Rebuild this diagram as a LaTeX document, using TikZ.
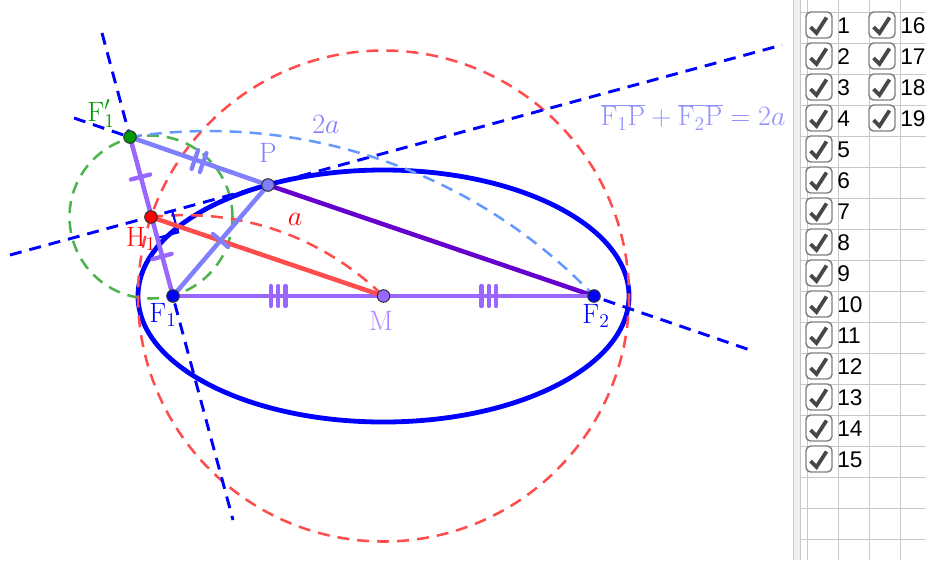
\RequirePackage{fix-cm}
\documentclass[tikz,border=0pt]{standalone}
\usepackage{fontspec}
\usetikzlibrary{calc}
\newfontfamily\liberation{Liberation Sans}
\definecolor{cblue}{HTML}{0000FF}
\definecolor{cpurple}{HTML}{9966FF}
\definecolor{cperi}{HTML}{8080FF}
\definecolor{cdark}{HTML}{6600CC}
\definecolor{cred}{HTML}{FF4D4D}
\definecolor{cgreen}{HTML}{4DB34D}
\definecolor{cgreenpt}{HTML}{009900}
\definecolor{carc}{HTML}{6699FF}
\definecolor{cgrid}{HTML}{C8C8C8}
\newcommand{\tickmark}[5]{% a,b,pos,half-length,style
  \draw[#5] ($(#1)!#3!(#2)!#4!90:(#2)$) -- ($(#1)!#3!(#2)!#4!-90:(#2)$);}
\tikzset{
  dash line/.style={dash pattern=on 9pt off 6pt},
  helper/.style={cblue,line width=2.2pt,dash line},
  seg/.style={line width=3.4pt,line cap=round},
  tk/.style={line width=3.2pt,line cap=round},
  dot/.style={circle,draw=black!80,line width=.8pt,minimum size=9.4pt,inner sep=0pt},
  lab/.style={inner sep=0pt,font=\fontsize{21}{24}\selectfont},
  grid line/.style={cgrid,line width=.75pt},
  box/.style={draw=black!50,line width=1.1pt,fill=white,rounded corners=3.5pt,minimum size=19.5pt,inner sep=0pt},
  cb label/.style={anchor=west,inner sep=0pt,font=\liberation\fontsize{17}{19}\selectfont},
}
\begin{document}
\begin{tikzpicture}[x=0.75pt,y=-0.75pt]
\useasboundingbox (0,0) rectangle (928,562);
\coordinate (F1) at (173,296);
\coordinate (F2) at (594,296);
\coordinate (M) at (383.5,296);
\coordinate (P) at (268,185);
\coordinate (Fp) at (130,137);
\coordinate (H) at (151,217);
\coordinate (t1) at (10,255);
\coordinate (t2) at (782,45);
\coordinate (n1) at (102,33);
\coordinate (n2) at (233,520);
\coordinate (r1) at (74,118);
\coordinate (r2) at (750,350);
% panel
\fill[black!6] (793,0) rectangle (800,560);
\foreach \x in {793,800,807,838,869,900} \draw[grid line] (\x,0) -- (\x,560);
\foreach \k in {0,...,17} \draw[grid line] (800,12+31*\k) -- (926,12+31*\k);
% construction
\draw[cblue,line width=3.6pt] (M) ellipse [x radius=245.5,y radius=126];
\draw[cgreen,line width=1.9pt,dash line] (H) circle [radius=81.5];
\draw[cred,line width=1.9pt,dash line] (M) circle [radius=245.5];
\draw[helper] (t1) -- (t2);
\draw[helper] (n1) -- (n2);
\draw[helper] (r1) -- (r2);
\draw[carc,line width=1.9pt,dash line] (Fp) to[bend left=27.6,looseness=.9] (F2);
\draw[cred,line width=1.9pt,dash line] (H) to[bend left=25,looseness=.92] (M);
% right angle
\coordinate (ra) at ($(H)!16.5pt!(P)$);
\coordinate (rb) at ($(H)!16.5pt!(F1)$);
\draw[cblue,line width=1.6pt] (ra) -- ($(ra)+(rb)-(H)$) -- (rb);
% segments
\draw[seg,cperi] (Fp) -- (P);
\draw[seg,cperi] (F1) -- (P);
\draw[seg,cdark] (P) -- (F2);
\draw[seg,cpurple] (F1) -- (F2);
\draw[seg,cpurple] (Fp) -- (F1);
\draw[seg,cred] (H) -- (M);
% ticks
\tickmark{Fp}{P}{0.47}{7.5pt}{tk,cperi}
\tickmark{Fp}{P}{0.53}{7.5pt}{tk,cperi}
\tickmark{F1}{P}{0.5}{7.5pt}{tk,cperi}
\tickmark{Fp}{H}{0.5}{7.5pt}{tk,cpurple}
\tickmark{H}{F1}{0.5}{7.5pt}{tk,cpurple}
\tickmark{F1}{M}{0.465}{7.5pt}{tk,cpurple}
\tickmark{F1}{M}{0.5}{7.5pt}{tk,cpurple}
\tickmark{F1}{M}{0.535}{7.5pt}{tk,cpurple}
\tickmark{M}{F2}{0.465}{7.5pt}{tk,cpurple}
\tickmark{M}{F2}{0.5}{7.5pt}{tk,cpurple}
\tickmark{M}{F2}{0.535}{7.5pt}{tk,cpurple}
% points
\node[dot,fill=cgreenpt] (dFp) at (Fp) {};
\node[dot,fill=red] (dH) at (H) {};
\node[dot,fill=cblue] (dF1) at (F1) {};
\node[dot,fill=cblue] (dF2) at (F2) {};
\node[dot,fill=cperi] (dP) at (P) {};
\node[dot,fill=cpurple] (dM) at (M) {};
% labels
\node[lab,text=cgreenpt] (lFp) at (101,114) {$\mathrm{F}'_1$};
\node[lab,text=red] (lH) at (141,239) {$\mathrm{H}_1$};
\node[lab,text=cblue] (lF1) at (163,315) {$\mathrm{F}_1$};
\node[lab,text=cblue] (lF2) at (596,316) {$\mathrm{F}_2$};
\node[lab,text=cperi] (lP) at (268,153) {$\mathrm{P}$};
\node[lab,text=cpurple!80] (lM) at (381,321) {$\mathrm{M}$};
\node[lab,text=red] (la) at (295,219) {$a$};
\node[lab,text=cperi] (l2a) at (326,124) {$2a$};
\node[lab,text=cperi!85] (leq) at (693,117) {$\overline{\mathrm{F}_1\mathrm{P}}+\overline{\mathrm{F}_2\mathrm{P}}=2a$};
% check boxes
\foreach \n/\x/\y in {1/819/25,2/819/56,3/819/87,4/819/118,5/819/149,6/819/180,7/819/211,8/819/242,9/819/273,10/819/304,11/819/335,12/819/366,13/819/397,14/819/428,15/819/459,16/882/25,17/882/56,18/882/87,19/882/118}{
  \node[box] (b\n) at (\x,\y) {};
  \draw[black!72,line width=2.8pt] (\x-8.5,\y+2) -- (\x-2.5,\y+8) -- (\x+7.5,\y-7.5);
  \node[cb label] (l\n) at (\x+18,\y+0.5) {\n};
}
\end{tikzpicture}
\end{document}
